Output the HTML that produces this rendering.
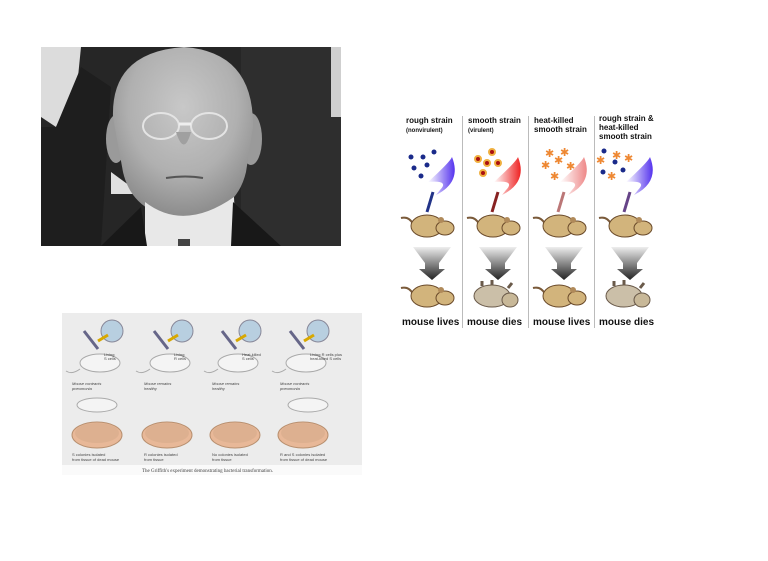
<!DOCTYPE html>
<html><head><meta charset="utf-8"><style>
body{margin:0;width:768px;height:561px;background:#fff;position:relative;overflow:hidden;font-family:"Liberation Sans","DejaVu Sans",sans-serif}
.a{position:absolute}
</style></head><body>
<!-- photo -->
<svg class="a" style="left:41px;top:47px" width="300" height="199" viewBox="0 0 300 199">
<defs>
<radialGradient id="face" cx="0.5" cy="0.35" r="0.65"><stop offset="0" stop-color="#c8c8c8"/><stop offset="0.6" stop-color="#b0b0b0"/><stop offset="1" stop-color="#8a8a8a"/></radialGradient>
</defs>
<rect width="300" height="199" fill="#262626"/>
<rect x="200" y="0" width="100" height="199" fill="#2e2e2e"/>
<path d="M0 0 L40 0 L36 40 L15 80 L0 70Z" fill="#dcdcdc"/>
<rect x="290" y="0" width="10" height="70" fill="#cfcfcf"/>
<path d="M0 80 L15 80 L40 20 L70 40 L60 199 L0 199Z" fill="#1e1e1e"/>
<path d="M70 125 L100 147 L70 147Z" fill="#e0e0e0"/>
<ellipse cx="75" cy="92" rx="10" ry="24" fill="#9a9a9a"/>
<ellipse cx="210" cy="92" rx="11" ry="26" fill="#9a9a9a"/>
<path d="M72 70 Q70 5 143 0 Q213 5 212 80 L205 125 Q195 168 143 172 Q92 168 82 125Z" fill="url(#face)"/>
<ellipse cx="120" cy="79" rx="18" ry="13" fill="none" stroke="#e4e4e4" stroke-width="2"/>
<ellipse cx="168" cy="79" rx="18" ry="13" fill="none" stroke="#e4e4e4" stroke-width="2"/>
<path d="M138 77 h12" stroke="#eee" stroke-width="3"/>
<path d="M135 85 Q143 110 150 85" fill="#a0a0a0"/>
<path d="M125 131 Q145 128 162 131" stroke="#555" stroke-width="2" fill="none"/>
<path d="M104 155 Q143 185 193 150 L195 199 L104 199Z" fill="#e8e8e8"/>
<path d="M60 199 L100 160 L106 199Z M240 199 L192 155 L190 199Z" fill="#181818"/>
<rect x="137" y="192" width="12" height="7" fill="#444"/>
</svg>

<!-- right diagram -->
<div class="a" style="left:400px;top:112px;width:262px;height:222px;font-weight:bold;color:#111">
<div class="a" style="left:62px;top:4px;width:1px;height:212px;background:#bbb"></div>
<div class="a" style="left:128px;top:4px;width:1px;height:212px;background:#bbb"></div>
<div class="a" style="left:194px;top:4px;width:1px;height:212px;background:#bbb"></div>
<div class="a" style="left:6px;top:4px;font-size:8px;line-height:9px">rough strain<br><span style="font-size:6px">(nonvirulent)</span></div>
<div class="a" style="left:68px;top:4px;font-size:8px;line-height:9px">smooth strain<br><span style="font-size:6px">(virulent)</span></div>
<div class="a" style="left:134px;top:4px;font-size:8px;line-height:9px">heat-killed<br>smooth strain</div>
<div class="a" style="left:199px;top:2px;font-size:8px;line-height:9px">rough strain &amp;<br>heat-killed<br>smooth strain</div>
<div class="a" style="left:2px;top:205px;font-size:10px">mouse lives</div>
<div class="a" style="left:67px;top:205px;font-size:10px">mouse dies</div>
<div class="a" style="left:133px;top:205px;font-size:10px">mouse lives</div>
<div class="a" style="left:199px;top:205px;font-size:10px">mouse dies</div>
<svg class="a" style="left:0;top:0" width="262" height="222">
<defs>
<linearGradient id="gb" x1="0" x2="1"><stop offset="0" stop-color="#fff"/><stop offset="1" stop-color="#5533ee"/></linearGradient>
<linearGradient id="gr" x1="0" x2="1"><stop offset="0" stop-color="#fff"/><stop offset="1" stop-color="#ee2222"/></linearGradient>
<linearGradient id="gp" x1="0" x2="1"><stop offset="0" stop-color="#fff"/><stop offset="1" stop-color="#ee8888"/></linearGradient>
<linearGradient id="ga" x1="0" y1="0" x2="0" y2="1"><stop offset="0" stop-color="#eee"/><stop offset="1" stop-color="#222"/></linearGradient>
<g id="m"><path d="M8 14 Q4 6 -4 8" stroke="#7a5a3a" stroke-width="2" fill="none"/><ellipse cx="22" cy="16" rx="16" ry="11" fill="#d2b47c" stroke="#6a4a2a"/><ellipse cx="40" cy="18" rx="9" ry="7" fill="#d2b47c" stroke="#6a4a2a"/><ellipse cx="36" cy="10" rx="3" ry="3" fill="#b08a5a"/></g>
<g id="d"><ellipse cx="24" cy="16" rx="18" ry="11" fill="#cbbfa8" stroke="#6a5a4a"/><ellipse cx="42" cy="20" rx="8" ry="7" fill="#c8b898" stroke="#6a5a4a"/><path d="M14 6 l0 -5 M24 5 l0 -5 M40 8 l4 -5" stroke="#6a5a4a" stroke-width="3"/></g>
<g id="ar"><path d="M8 0 L46 0 L34 16 L34 22 L40 22 L27 33 L14 22 L20 22 L20 16Z" fill="url(#ga)"/></g>
</defs>
<g fill="#1a2a8a"><circle cx="11" cy="45" r="2.5"/><circle cx="23" cy="45" r="2.5"/><circle cx="34" cy="40" r="2.5"/><circle cx="14" cy="56" r="2.5"/><circle cx="27" cy="53" r="2.5"/><circle cx="21" cy="64" r="2.5"/></g>
<g fill="#aa1111" stroke="#f0b040" stroke-width="2"><circle cx="78" cy="47" r="3"/><circle cx="92" cy="40" r="3"/><circle cx="87" cy="51" r="3"/><circle cx="98" cy="51" r="3"/><circle cx="83" cy="61" r="3"/></g>
<g fill="#ee8833" font-size="11"><text x="145" y="45">✱</text><text x="160" y="44">✱</text><text x="141" y="57">✱</text><text x="154" y="52">✱</text><text x="166" y="58">✱</text><text x="150" y="68">✱</text></g>
<g fill="#1a2a8a"><circle cx="204" cy="39" r="2.5"/><circle cx="215" cy="50" r="2.5"/><circle cx="203" cy="60" r="2.5"/><circle cx="223" cy="58" r="2.5"/></g>
<g fill="#ee8833" font-size="11"><text x="212" y="47">✱</text><text x="196" y="52">✱</text><text x="224" y="50">✱</text><text x="207" y="68">✱</text></g>
<path d="M28 70 Q50 50 52 45 Q62 70 36 83 L40 78 Q50 68 28 70Z" fill="url(#gb)"/>
<path d="M94 70 Q116 50 118 45 Q128 70 102 83 L106 78 Q116 68 94 70Z" fill="url(#gr)"/>
<path d="M160 70 Q182 50 184 45 Q194 70 168 83 L172 78 Q182 68 160 70Z" fill="url(#gp)"/>
<path d="M226 70 Q248 50 250 45 Q260 70 234 83 L238 78 Q248 68 226 70Z" fill="url(#gb)"/>
<g stroke-width="3"><line x1="33" y1="80" x2="27" y2="100" stroke="#223388"/><line x1="98" y1="80" x2="92" y2="100" stroke="#882222"/><line x1="164" y1="80" x2="158" y2="100" stroke="#bb7777"/><line x1="230" y1="80" x2="224" y2="100" stroke="#664488"/></g>
<use href="#m" x="5" y="98"/><use href="#m" x="71" y="98"/><use href="#m" x="137" y="98"/><use href="#m" x="203" y="98"/>
<use href="#ar" x="5" y="135"/><use href="#ar" x="71" y="135"/><use href="#ar" x="137" y="135"/><use href="#ar" x="203" y="135"/>
<use href="#m" x="5" y="168"/><use href="#d" x="68" y="168"/><use href="#m" x="137" y="168"/><use href="#d" x="200" y="168"/>
</svg>
</div>

<!-- bottom-left diagram -->
<svg class="a" style="left:62px;top:313px" width="300" height="162" viewBox="0 0 300 162" font-size="4" fill="#444">
<rect width="300" height="152" fill="#ececec"/>
<rect y="152" width="300" height="10" fill="#fafafa"/>
<text x="80" y="159" font-family="Liberation Serif" font-size="5">The Griffith's experiment demonstrating bacterial transformation.</text>
<g id="col">
<circle cx="50" cy="18" r="11" fill="#b8cfe0" stroke="#889"/>
<path d="M36 28 L46 22" stroke="#d8a800" stroke-width="3"/>
<line x1="22" y1="18" x2="36" y2="36" stroke="#668" stroke-width="3"/>
<ellipse cx="38" cy="50" rx="20" ry="9" fill="#f4f4f4" stroke="#aaa"/>
<path d="M18 56 Q10 62 4 58" stroke="#aaa" fill="none"/>
<ellipse cx="35" cy="122" rx="25" ry="13" fill="#e8b898" stroke="#b89070"/>
<ellipse cx="35" cy="120" rx="22" ry="10" fill="#ddb090"/>
</g>
<use href="#col" x="70"/><use href="#col" x="138"/><use href="#col" x="206"/>
<ellipse cx="35" cy="92" rx="20" ry="7" fill="#f4f4f4" stroke="#aaa"/>
<ellipse cx="246" cy="92" rx="20" ry="7" fill="#f4f4f4" stroke="#aaa"/>
<text x="10" y="72" font-style="italic">Mouse contracts</text><text x="10" y="77" font-style="italic">pneumonia</text>
<text x="82" y="72" font-style="italic">Mouse remains</text><text x="82" y="77" font-style="italic">healthy</text>
<text x="150" y="72" font-style="italic">Mouse remains</text><text x="150" y="77" font-style="italic">healthy</text>
<text x="218" y="72" font-style="italic">Mouse contracts</text><text x="218" y="77" font-style="italic">pneumonia</text>
<text x="10" y="143">S colonies isolated</text><text x="10" y="148">from tissue of dead mouse</text>
<text x="82" y="143">R colonies isolated</text><text x="82" y="148">from tissue</text>
<text x="150" y="143">No colonies isolated</text><text x="150" y="148">from tissue</text>
<text x="218" y="143">R and S colonies isolated</text><text x="218" y="148">from tissue of dead mouse</text>
<text x="42" y="43">Living</text><text x="42" y="47">S cells</text>
<text x="112" y="43">Living</text><text x="112" y="47">R cells</text>
<text x="180" y="43">Heat-killed</text><text x="180" y="47">S cells</text>
<text x="248" y="43">Living R cells plus</text><text x="248" y="47">heat-killed S cells</text>
</svg>
</body></html>
